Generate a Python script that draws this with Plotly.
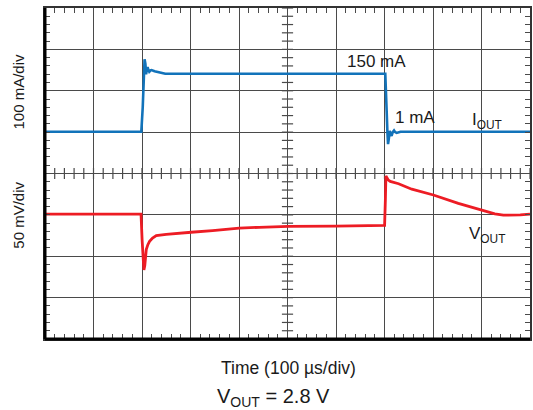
import numpy as np
import plotly.graph_objects as go

# ---- data ----
# Output current, mA, vs time in microseconds
i_time_us = [0, 198.6, 201.5, 203.5, 205.3, 207.0, 208.4, 210.0, 211.5, 213.3, 215.0, 217.5,
             219.7, 225.9, 232.0, 239.6, 248.0, 701.6, 703.0, 704.5, 706.0, 707.3,
             709.0, 710.8, 712.6, 714.6, 717.0, 719.7, 722.0, 725.0, 733.0, 1000]
i_out_ma = [1, 1, 60, 130, 176, 165, 140, 150, 157, 150, 146, 149,
            150, 147, 145, 143, 141, 141, 110, 50, 0, -29,
            -15, 3, -4, -9, 0, 4, 0, -2, 1, 1]

# Output voltage deviation from 2.8 V, mV, vs time in microseconds
v_time_us = [0, 198.0, 200.2, 202.3, 203.9, 205.7, 207.2, 208.8, 212.1, 215.6, 221.8, 229.4,
             249.9, 275.0, 301.2, 345.6, 400.4, 441.5, 501.6, 599.0, 700.2, 701.8,
             702.9, 705.0, 708.0, 711.9, 729.0, 756.3, 800.8, 852.2, 900.0, 927.5,
             945.0, 961.6, 980.0, 1000]
v_dev_mv = [1, 1, -30, -57, -66.5, -61.6, -50, -42, -36, -32, -28, -25,
            -23.5, -22, -21, -19, -16, -15, -14, -13.5, -12.6, 18,
            47, 45, 42, 40.4, 37.6, 31, 24, 14, 6, 1.3,
            -0.3, -0.5, 0, 1]

# scope settings
time_div_us = 100
cur_div_ma = 100
volt_div_mv = 50
n_xdiv = 10
n_ydiv = 8

BLUE = "#1273ba"
RED = "#ed1c24"
GRID = "#4a4a4a"
FONT = "Liberation Sans, Arial, sans-serif"

fig = go.Figure()

# centre-line minor ticks (graticule)
minor_x = np.arange(0, n_xdiv * time_div_us + 0.1, time_div_us / 5)
minor_y = np.arange(0, n_ydiv + 0.001, 0.2)
fig.add_trace(go.Scatter(x=minor_x, y=[n_ydiv / 2] * len(minor_x), mode="markers",
                         marker=dict(symbol="line-ns", size=8, line=dict(width=1.2, color=GRID)),
                         hoverinfo="skip", showlegend=False, xaxis="x", yaxis="y"))
fig.add_trace(go.Scatter(x=[n_xdiv * time_div_us / 2] * len(minor_y), y=minor_y, mode="markers",
                         marker=dict(symbol="line-ew", size=8, line=dict(width=1.2, color=GRID)),
                         hoverinfo="skip", showlegend=False, xaxis="x", yaxis="y"))

# traces
fig.add_trace(go.Scatter(x=i_time_us, y=i_out_ma, mode="lines", line=dict(color=BLUE, width=2.6),
                         showlegend=False, xaxis="x", yaxis="y2"))
fig.add_trace(go.Scatter(x=v_time_us, y=v_dev_mv, mode="lines", line=dict(color=RED, width=2.8),
                         showlegend=False, xaxis="x", yaxis="y3"))

fig.update_layout(
    width=533, height=410,
    margin=dict(l=45, r=1, t=8, b=71),
    paper_bgcolor="white", plot_bgcolor="white",
    font=dict(family=FONT, color="#1a1a1a"),
    xaxis=dict(range=[0, n_xdiv * time_div_us], dtick=time_div_us, showgrid=True,
               gridcolor=GRID, gridwidth=1.4, zeroline=False, showticklabels=False,
               ticks="inside", ticklen=5, tickcolor=GRID, tickwidth=1.2,
               minor=dict(dtick=time_div_us / 5, ticks="inside", ticklen=5, tickcolor=GRID,
                          tickwidth=1.2, showgrid=False),
               showline=True, linecolor="#333333", linewidth=2, mirror="allticks"),
    yaxis=dict(range=[0, n_ydiv], dtick=1, showgrid=True, gridcolor=GRID, gridwidth=1.4,
               zeroline=False, showticklabels=False,
               ticks="inside", ticklen=5, tickcolor=GRID, tickwidth=1.2,
               minor=dict(dtick=0.2, ticks="inside", ticklen=5, tickcolor=GRID,
                          tickwidth=1.2, showgrid=False),
               showline=True, linecolor="#333333", linewidth=2, mirror="allticks"),
    yaxis2=dict(range=[-5 * cur_div_ma, 3 * cur_div_ma], overlaying="y", visible=False),
    yaxis3=dict(range=[-3 * volt_div_mv, 5 * volt_div_mv], overlaying="y", visible=False),
)

# heavier left and bottom frame edges
fig.add_shape(type="line", xref="paper", yref="paper", x0=0, x1=0, y0=0, y1=1,
              line=dict(color="black", width=3))
fig.add_shape(type="line", xref="paper", yref="paper", x0=0, x1=1, y0=0, y1=0,
              line=dict(color="black", width=3))

ann = [
    dict(text="150 mA", x=0.684, y=0.838, size=17),
    dict(text="1 mA", x=0.763, y=0.670, size=17),
    dict(text="I<sub>OUT</sub>", x=0.912, y=0.660, size=17),
    dict(text="V<sub>OUT</sub>", x=0.912, y=0.315, size=17),
    dict(text="Time (100 µs/div)", x=0.503, y=-0.088, size=17.5),
    dict(text="V<sub>OUT</sub> = 2.8 V", x=0.472, y=-0.178, size=20),
]
for a in ann:
    fig.add_annotation(text=a["text"], x=a["x"], y=a["y"], xref="paper", yref="paper",
                       showarrow=False, xanchor="center", yanchor="middle",
                       font=dict(size=a["size"], family=FONT, color="#1a1a1a"))

fig.add_annotation(text="100 mA/div", x=-0.054, y=0.747, xref="paper", yref="paper",
                   showarrow=False, textangle=-90, xanchor="center", yanchor="middle",
                   font=dict(size=15, family=FONT, color="#1a1a1a"))
fig.add_annotation(text="50 mV/div", x=-0.054, y=0.375, xref="paper", yref="paper",
                   showarrow=False, textangle=-90, xanchor="center", yanchor="middle",
                   font=dict(size=15, family=FONT, color="#1a1a1a"))

fig.write_html("out.html", config={"displayModeBar": False},
               post_script="document.body.style.margin='0';document.body.style.overflow='hidden';")
